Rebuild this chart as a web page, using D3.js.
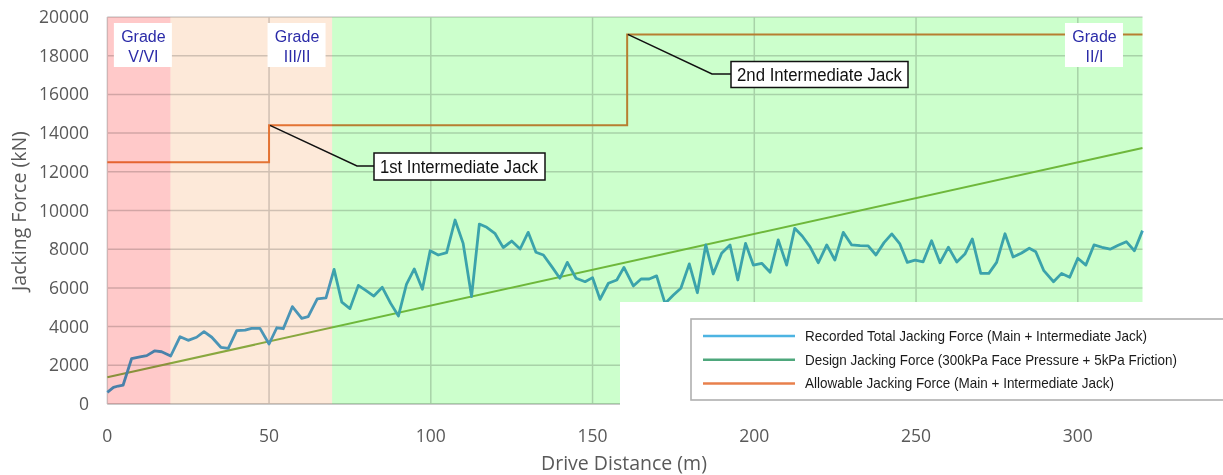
<!DOCTYPE html>
<html>
<head>
<meta charset="utf-8">
<script src="https://cdn.jsdelivr.net/npm/d3@7"></script>
<style>
  html, body { margin: 0; padding: 0; background: #fff; }
  svg { display: block; }
  .blend { mix-blend-mode: multiply; }
</style>
</head>
<body>
<svg id="chart" width="1223" height="475"></svg>
<script>
// ---------------- DATA ----------------
const distance = [0,1.9,3.4,4.9,7.5,10.1,12.2,14.7,16.8,19.6,
  22.5,25,27.6,29.9,32.3,35.1,37.4,40,42.6,44.6,
  47.2,50,52.4,54.4,57.2,60.1,62.1,64.9,67.6,70.1,
  72.5,75,77.6,80,82.4,85,87.6,90,92.5,94.9,
  97.4,99.8,102.3,104.9,107.5,110,112.6,115,117.3,119.8,
  122.4,125,127.6,130.1,132.5,134.8,137.4,139.9,142.2,144.9,
  147.7,150,152.3,154.9,157.5,159.7,162.6,165,167.5,169.8,
  172.4,175,177.3,179.9,182.4,185,187.3,189.9,192.5,194.9,
  197.3,199.7,202.3,204.9,207.4,210,212.5,214.8,217.2,219.8,
  222.4,224.9,227.5,230.1,232.7,235.2,237.6,240.1,242.5,245,
  247.3,249.7,252.2,254.8,257.4,260,262.6,265.1,267.4,270,
  272.5,274.9,277.5,280,282.5,285,287,289.5,292.5,295,
  297.5,300,302.5,305,307.5,310,312.5,315,317.5,320];
const recordedForce = [600,860,930,980,2340,2430,2500,2750,2700,2480,
  3480,3290,3450,3740,3450,2930,2880,3790,3820,3910,
  3910,3100,3940,3890,5030,4430,4510,5430,5490,6960,
  5260,4930,6130,5860,5580,6030,5200,4550,6200,6980,
  5930,7920,7700,7820,9510,8300,5550,9300,9130,8820,
  8080,8420,8010,8870,7840,7700,7100,6500,7320,6500,
  6320,6530,5410,6240,6410,7060,6100,6460,6460,6620,
  5200,5630,5980,7240,5750,8220,6720,7790,8220,6410,
  8300,7180,7270,6810,8480,7180,9080,8680,8130,7300,
  8220,7440,8870,8220,8180,8170,7700,8340,8790,8270,
  7320,7440,7350,8440,7300,8100,7340,7750,8530,6750,
  6750,7320,8800,7600,7790,8050,7870,6890,6320,6750,
  6550,7530,7180,8220,8100,8000,8200,8390,7920,8960];
const designDistance = [0, 320];
const designForce = [1380, 13230];
const allowDistance = [0, 50, 160.7, 320];
const allowForce = [12500, 14400, 19100, 19100];

const zoneStart = [0, 19.5, 69.5];
const zoneEnd = [19.5, 69.5, 320];
const zoneColors = ["#ffc9c9", "#fde9d9", "#ccffcc"];
const gradeLabels = [["Grade", "V/VI"], ["Grade", "III/II"], ["Grade", "II/I"]];
const gradeAt = [11, 58.5, 305];

const xTicks = [0, 50, 100, 150, 200, 250, 300];
const yTicks = [0,2000,4000,6000,8000,10000,12000,14000,16000,18000,20000];

const seriesNames = [
  "Recorded Total Jacking Force (Main + Intermediate Jack)",
  "Design Jacking Force (300kPa Face Pressure + 5kPa Friction)",
  "Allowable Jacking Force (Main + Intermediate Jack)"];
const legendColors = ["#4db4e2", "#4ea77c", "#e8804c"];
const lineColors = ["#4aa3d6", "#8ab84a", "#e57e3c"];

const jackLabels = ["1st Intermediate Jack", "2nd Intermediate Jack"];

// ---------------- LAYOUT ----------------
const svg = d3.select("#chart");
const L = 107.3, R = 1142.5, T = 17, B = 404;
const x = d3.scaleLinear().domain([0, 320]).range([L, R]);
const y = d3.scaleLinear().domain([0, 20000]).range([B, T]);

svg.append("rect").attr("width", 1223).attr("height", 475).attr("fill", "#fff");

// gridlines
const grid = svg.append("g");
grid.selectAll(".hg").data(yTicks).enter().append("line")
  .attr("x1", L).attr("x2", R).attr("y1", d => y(d)).attr("y2", d => y(d))
  .attr("stroke", "#d2d2d2").attr("stroke-width", 1.5);
grid.selectAll(".vg").data(xTicks).enter().append("line")
  .attr("x1", d => x(d)).attr("x2", d => x(d)).attr("y1", T).attr("y2", B)
  .attr("stroke", "#d2d2d2").attr("stroke-width", 1.5);
svg.append("line").attr("x1", L).attr("x2", R).attr("y1", B).attr("y2", B)
  .attr("stroke", "#c4c4c4").attr("stroke-width", 1.5);

// series
const line = d3.line().x(d => x(d[0])).y(d => y(d[1]));
const stepLine = d3.line().x(d => x(d[0])).y(d => y(d[1])).curve(d3.curveStepAfter);

svg.append("path").datum(d3.zip(allowDistance, allowForce))
  .attr("d", stepLine).attr("fill", "none").attr("stroke", lineColors[2]).attr("stroke-width", 2);
svg.append("path").datum(d3.zip(designDistance, designForce))
  .attr("d", line).attr("fill", "none").attr("stroke", lineColors[1]).attr("stroke-width", 2);
svg.append("path").datum(d3.zip(distance, recordedForce))
  .attr("d", line).attr("fill", "none").attr("stroke", lineColors[0])
  .attr("stroke-width", 2.8).attr("stroke-linejoin", "round");

// zone overlays (multiply blend)
svg.selectAll(".zone").data(d3.range(zoneStart.length)).enter().append("rect")
  .attr("class", "blend")
  .attr("x", i => x(zoneStart[i])).attr("width", i => x(zoneEnd[i]) - x(zoneStart[i]))
  .attr("y", T).attr("height", B - T)
  .attr("fill", i => zoneColors[i]);

// grade labels
const gl = svg.selectAll(".grade").data(d3.range(gradeLabels.length)).enter().append("g");
gl.append("rect")
  .attr("x", i => x(gradeAt[i]) - 29).attr("y", 23).attr("width", 58).attr("height", 44)
  .attr("fill", "#fff");
gl.each(function(i) {
  const g = d3.select(this);
  gradeLabels[i].forEach((t, k) => {
    g.append("text").attr("x", x(gradeAt[i]) + 0.5).attr("y", 42 + k * 19.5)
      .attr("text-anchor", "middle")
      .attr("font-family", "Liberation Sans, Arial, sans-serif").attr("font-size", 16)
      .attr("fill", "#2b2ba8").text(t);
  });
});

// jack annotations
const narrow = "'Liberation Sans', Arial, sans-serif";
const ann = [
  {sx: x(50.3), sy: y(14400), mx: 357, my: 166, bx: 374, by: 153, bw: 171, bh: 27, tl: 158},
  {sx: x(160.9), sy: y(19100), mx: 712, my: 74, bx: 731, by: 61.5, bw: 177, bh: 26, tl: 165}
];
ann.forEach((a, i) => {
  svg.append("polyline")
    .attr("points", `${a.sx},${a.sy} ${a.mx},${a.my} ${a.bx},${a.my}`)
    .attr("fill", "none").attr("stroke", "#111").attr("stroke-width", 1.5);
  svg.append("rect").attr("x", a.bx).attr("y", a.by).attr("width", a.bw).attr("height", a.bh)
    .attr("fill", "#fff").attr("stroke", "#111").attr("stroke-width", 1.5);
  svg.append("text").attr("x", a.bx + 6).attr("y", a.by + a.bh / 2 + 6)
    .attr("font-family", narrow).attr("font-size", 17.5)
    .attr("textLength", a.tl).attr("lengthAdjust", "spacingAndGlyphs")
    .attr("fill", "#111").text(jackLabels[i]);
});

// legend
svg.append("rect").attr("x", 620).attr("y", 302).attr("width", 610).attr("height", 105).attr("fill", "#fff");
svg.append("rect").attr("x", 691).attr("y", 319).attr("width", 540).attr("height", 81)
  .attr("fill", "#fff").attr("stroke", "#b0b0b0").attr("stroke-width", 1.6);
const legendLen = [342, 372, 309];
seriesNames.forEach((n, i) => {
  const ly = 336 + i * 23.7;
  svg.append("line").attr("x1", 703).attr("x2", 795).attr("y1", ly).attr("y2", ly)
    .attr("stroke", legendColors[i]).attr("stroke-width", 2.5);
  svg.append("text").attr("x", 805).attr("y", ly + 5)
    .attr("font-family", narrow).attr("font-size", 14.5)
    .attr("textLength", legendLen[i]).attr("lengthAdjust", "spacingAndGlyphs")
    .attr("fill", "#1a1a1a").text(n);
});

// axis labels
const axFont = "'Open Sans', 'Noto Sans', sans-serif";
svg.selectAll(".yl").data(yTicks).enter().append("text")
  .attr("x", 89).attr("y", d => y(d) + 6).attr("text-anchor", "end")
  .attr("font-family", axFont).attr("font-size", 17.5).attr("fill", "#595959")
  .text(d => d);
svg.selectAll(".xl").data(xTicks).enter().append("text")
  .attr("x", d => x(d)).attr("y", 442).attr("text-anchor", "middle")
  .attr("font-family", axFont).attr("font-size", 17.5).attr("fill", "#595959")
  .text(d => d);
svg.append("text").attr("transform", `translate(26,211) rotate(-90)`)
  .attr("text-anchor", "middle").attr("font-family", axFont).attr("font-size", 19.5)
  .attr("fill", "#595959").text("Jacking Force (kN)");
svg.append("text").attr("x", 624).attr("y", 470).attr("text-anchor", "middle")
  .attr("font-family", axFont).attr("font-size", 19.5)
  .attr("fill", "#595959").text("Drive Distance (m)");
</script>
</body>
</html>
